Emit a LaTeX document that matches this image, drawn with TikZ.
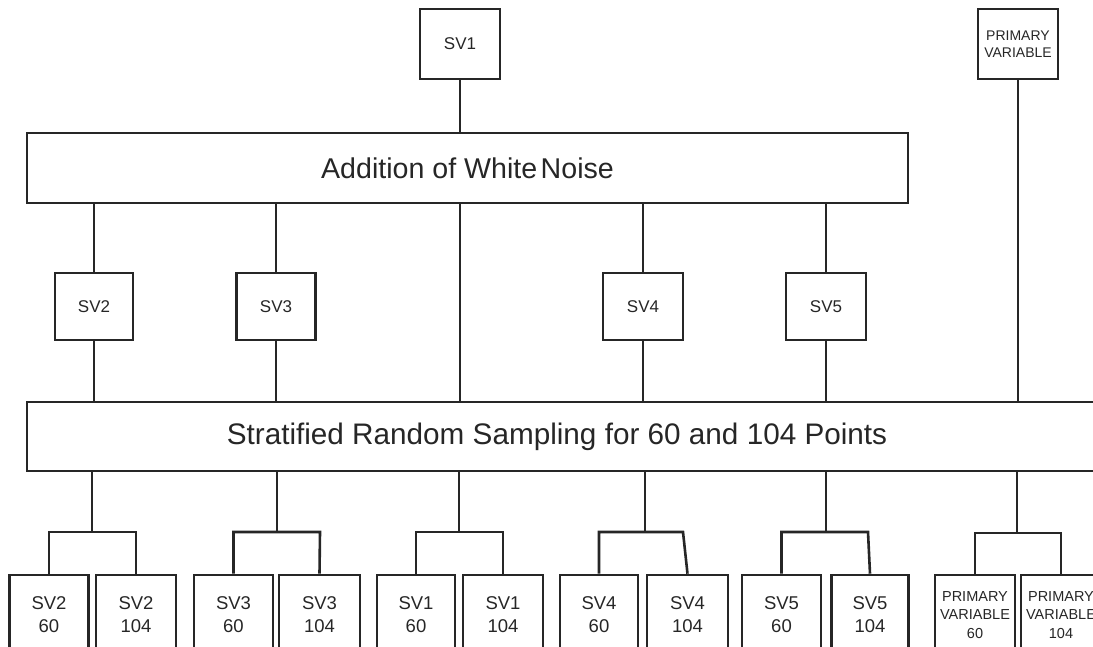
\documentclass[tikz,border=0pt]{standalone}
\usepackage{fontspec}
\setmainfont{Liberation Sans}
\definecolor{ink}{HTML}{262626}
\tikzset{
  box/.style={draw=ink, line width=2.6pt, text=ink, inner sep=0pt, align=center},
  conn/.style={draw=ink, line width=2.6pt},
  topbox/.style={box, minimum width=80pt, minimum height=70pt},
  midbox/.style={box, minimum width=79pt, minimum height=67pt, font=\fontsize{17}{20}\selectfont},
  botbox/.style={box, minimum width=79pt, minimum height=80pt, font=\fontsize{18.5}{23}\selectfont},
  pvbox/.style={box, minimum width=79pt, minimum height=80pt, font=\fontsize{14.5}{18.5}\selectfont},
}
\begin{document}
\begin{tikzpicture}[x=1pt, y=-1pt]
\path[use as bounding box] (0,0) rectangle (1093,647);
\clip (0,0) rectangle (1093,647);

% top row
\node[topbox, font=\fontsize{17}{20}\selectfont] (sv1) at (460,44) {SV1};
\node[topbox, font=\fontsize{14}{16.5}\selectfont] (pv) at (1018,44) {PRIMARY\\VARIABLE};

% addition box
\node[box, minimum width=881pt, minimum height=70pt, font=\fontsize{28.6}{34}\selectfont] (add) at (467.5,168) {Addition of White\hspace{0.12em}Noise};

% middle row
\node[midbox, minimum width=78pt] (sv2) at (94,306.5) {SV2};
\node[midbox] (sv3) at (276,306.5) {SV3};
\node[midbox, minimum width=80pt] (sv4) at (643,306.5) {SV4};
\node[midbox, minimum width=80pt] (sv5) at (826,306.5) {SV5};

% stratified box (open to the right)
\node[box, minimum width=1090pt, minimum height=69pt] (strat) at (572,436.5) {};
\node[text=ink, inner sep=0pt, font=\fontsize{29.7}{35}\selectfont] (stratlabel) at (557,436.5) {Stratified Random Sampling for 60 and 104 Points};

% bottom row
\node[botbox] (a2) at (49,615) {SV2\\60};
\node[botbox, minimum width=80pt] (b2) at (136,615) {SV2\\104};
\node[botbox] (a3) at (233.5,615) {SV3\\60};
\node[botbox, minimum width=81pt] (b3) at (319.5,615) {SV3\\104};
\node[botbox, minimum width=78pt] (a1) at (416,615) {SV1\\60};
\node[botbox, minimum width=80pt] (b1) at (503,615) {SV1\\104};
\node[botbox, minimum width=78pt] (a4) at (599,615) {SV4\\60};
\node[botbox, minimum width=81pt] (b4) at (687.5,615) {SV4\\104};
\node[botbox] (a5) at (781.5,615) {SV5\\60};
\node[botbox, minimum width=77pt] (b5) at (870,615) {SV5\\104};
\node[pvbox, minimum width=80pt] (a6) at (975,615) {PRIMARY\\VARIABLE\\60};
\node[pvbox, minimum width=80pt] (b6) at (1061,615) {PRIMARY\\VARIABLE\\104};

% top connectors
\draw[conn] (sv1.south) -- (sv1.south |- add.north);
\draw[conn] (pv.south) -- (pv.south |- strat.north);

% addition to middle row
\foreach \n in {sv2,sv3,sv4,sv5}{
  \draw[conn] (add.south -| \n.north) -- (\n.north);
  \draw[conn] (\n.south) -- (\n.south |- strat.north);
}
\draw[conn] (add.south -| sv1.south) -- (strat.north -| sv1.south);

% bottom tree
\coordinate (s2) at (92,532);   \coordinate (r2) at (136,532);
\coordinate (s3) at (277,532);  \coordinate (r3) at (320,532);
\coordinate (s1) at (459,532);  \coordinate (r1) at (503,532);
\coordinate (s4) at (645,532);  \coordinate (r4) at (683,532);
\coordinate (s5) at (826,532);  \coordinate (r5) at (868,532);
\coordinate (s6) at (1017,533); \coordinate (r6) at (1061,533);
\foreach \k in {2,3,1,4,5,6}{
  \draw[conn] (strat.south -| s\k) -- (s\k);
  \draw[conn] (a\k.north) -- (a\k.north |- s\k) -- (r\k) -- (b\k.north);
}
\end{tikzpicture}
\end{document}
